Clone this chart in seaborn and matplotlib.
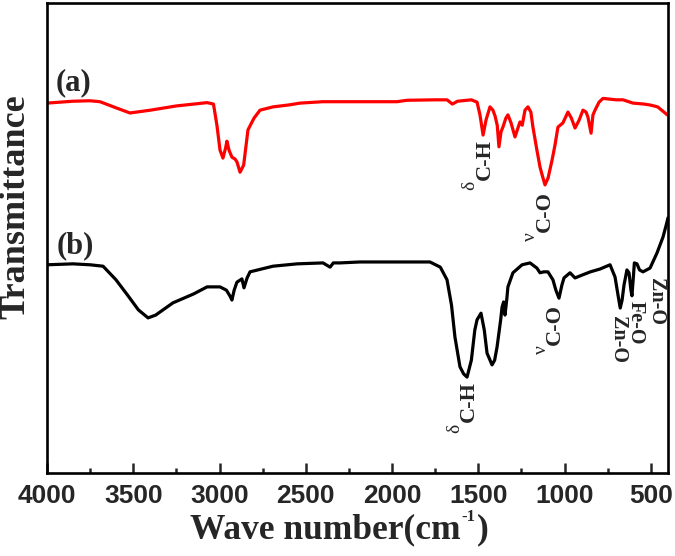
import numpy as np
import pandas as pd
import matplotlib
matplotlib.use("Agg")
import matplotlib.pyplot as plt
import seaborn as sns

# ---- data ----
wn_a = [4000, 3850, 3751, 3693, 3600, 3519, 3400, 3250, 3072, 3035, 3015, 2997, 2980, 2965,
        2957, 2945, 2928, 2910, 2899, 2881, 2860, 2835, 2800, 2765, 2690, 2600, 2533, 2400,
        2186, 1971, 1913, 1750, 1681, 1650, 1620, 1540, 1507, 1490, 1472, 1455, 1432, 1415,
        1403, 1390, 1380, 1368, 1357, 1340, 1328, 1310, 1287, 1270, 1258, 1245, 1229, 1212,
        1195, 1183, 1160, 1142, 1125, 1113, 1095, 1072, 1055, 1038, 1025, 1009, 980, 960,
        939, 915, 893, 875, 864, 846, 835, 823, 800, 777, 700, 661, 603, 540, 504, 460, 417, 405]
t_a = [78.7, 79.1, 79.2, 79.0, 77.7, 76.6, 77.2, 78.1, 78.8, 78.5, 74.0, 68.7, 67.0, 69.1,
       70.6, 68.7, 67.2, 66.8, 66.2, 64.0, 65.5, 73.0, 75.5, 77.2, 77.9, 78.3, 78.7, 79.0,
       79.0, 79.0, 79.3, 79.4, 79.4, 78.5, 79.1, 79.4, 78.9, 76.2, 71.9, 75.1, 77.9, 77.2,
       76.0, 74.0, 69.4, 72.6, 73.6, 75.5, 76.2, 74.5, 71.5, 73.4, 74.7, 74.0, 77.2, 77.9,
       76.8, 73.6, 68.7, 65.1, 62.8, 61.3, 62.8, 66.6, 69.8, 73.6, 74.0, 74.5, 76.8, 75.5,
       73.4, 75.1, 77.2, 76.8, 75.7, 72.3, 76.2, 77.2, 78.9, 79.7, 79.4, 79.4, 78.7, 78.5, 78.3, 77.9, 76.6, 76.2]

wn_b = [4000, 3850, 3750, 3675, 3600, 3530, 3470, 3414, 3370, 3270, 3150, 3072, 2997, 2960,
        2940, 2928, 2915, 2899, 2870, 2858, 2840, 2823, 2690, 2550, 2400, 2359, 2340, 2301,
        2186, 2000, 1780, 1720, 1681, 1655, 1635, 1606, 1585, 1565, 1540, 1520, 1507, 1484,
        1465, 1449, 1420, 1405, 1391, 1370, 1362, 1353, 1345, 1335, 1328, 1299, 1246, 1200,
        1160, 1142, 1120, 1096, 1067, 1050, 1032, 1015, 1003, 968, 939, 899, 850, 794, 736,
        707, 690, 677, 666, 655, 638, 626, 615, 609, 600, 595, 580, 565, 545, 504, 464, 429, 410, 400]
t_b = [44.3, 44.5, 44.3, 44.0, 41.1, 37.7, 34.7, 33.0, 33.6, 36.2, 38.1, 39.6, 39.6, 38.9,
       37.7, 36.8, 38.9, 40.6, 41.3, 39.4, 41.5, 42.8, 44.0, 44.5, 44.7, 43.8, 44.7, 44.7,
       44.9, 44.9, 44.9, 43.8, 41.1, 35.7, 28.9, 22.6, 21.1, 20.4, 24.0, 30.4, 32.6, 34.0,
       30.4, 25.5, 23.0, 24.0, 26.8, 32.6, 35.3, 36.4, 33.6, 36.8, 39.6, 42.6, 44.3, 44.7,
       43.6, 42.6, 42.8, 42.8, 41.1, 38.9, 37.2, 40.0, 41.5, 42.6, 41.5, 42.1, 42.8, 43.4, 44.3,
       41.7, 37.9, 35.1, 36.8, 40.0, 43.2, 42.6, 38.9, 37.7, 42.1, 44.7, 44.5, 43.2, 42.8, 43.6, 46.8, 50.2, 52.8, 54.3]

series_labels = ["(a)", "(b)"]
x_ticks = [4000, 3500, 3000, 2500, 2000, 1500, 1000, 500]

df_a = pd.DataFrame({"wn": wn_a, "T": t_a})
df_b = pd.DataFrame({"wn": wn_b, "T": t_b})

# ---- style ----
sns.set_style("ticks")
plt.rcParams["font.family"] = ["Liberation Serif", "DejaVu Serif"]

W, H = 675, 556
fig = plt.figure(figsize=(W / 100, H / 100), dpi=100)
ax = fig.add_axes([47 / W, 1 - 473 / H, 621 / W, 470 / H])

sns.lineplot(data=df_a, x="wn", y="T", ax=ax, color="#ff0000", lw=2.3, sort=False, estimator=None)
sns.lineplot(data=df_b, x="wn", y="T", ax=ax, color="#000000", lw=2.3, sort=False, estimator=None)

ax.set_xlim(4000, 400)
ax.set_ylim(0, 100)
ax.set_xticks(x_ticks)
ax.set_xticks([3750, 3250, 2750, 2250, 1750, 1250, 750], minor=True)
ax.set_xticklabels([str(v) for v in x_ticks], fontfamily="Liberation Sans",
                   fontweight="bold", fontsize=19)
ax.tick_params(axis="x", which="major", direction="in", length=7, width=1.8, pad=8)
ax.tick_params(axis="x", which="minor", direction="in", length=3.5, width=1.8)
ax.set_yticks([])
ax.set_xlabel("")
ax.set_ylabel("")
for sp in ax.spines.values():
    sp.set_linewidth(1.9)
    sp.set_color("black")

def px(x, y):
    return x / W, 1 - y / H

# y label
fig.text(*px(16, 207), "Transmittance", rotation=90, fontsize=26, fontweight="bold",
         ha="center", va="center")

# x label with small hyphen superscript
renderer = fig.canvas.get_renderer()
t1 = fig.text(*px(190, 538), "Wave number(cm", fontsize=25.5, fontweight="bold",
              ha="left", va="baseline")
bb = t1.get_window_extent(renderer)
t2 = fig.text((bb.x1 + 1) / W, 1 - 521 / H, "-1", fontsize=12, fontweight="bold",
              ha="left", va="baseline")
bb2 = t2.get_window_extent(renderer)
fig.text((bb2.x1 + 1) / W, 1 - 538 / H, ")", fontsize=25.5, fontweight="bold",
         ha="left", va="baseline")

# series labels
ax.text(3845, 83, series_labels[0], fontsize=22, fontweight="bold", ha="center", va="center")
ax.text(3835, 48.3, series_labels[1], fontsize=22, fontweight="bold", ha="center", va="center")

# peak annotations
lab = dict(fontsize=16, fontweight="bold", ha="center", va="center")
lab2 = dict(fontsize=14.5, fontweight="bold", ha="center", va="center")
sm = dict(fontsize=14, ha="center", va="center")
ax.text(1461, 66.6, "C-H", rotation=90, **lab)
ax.text(1548, 61.3, "δ", rotation=90, **sm)
ax.text(1113, 55.7, "C-O", rotation=90, **lab)
ax.text(1200, 50.4, "ν", rotation=90, **sm)
ax.text(1554, 15.3, "C-H", rotation=90, **lab)
ax.text(1635, 9.6, "δ", rotation=90, **sm)
ax.text(1055, 31.5, "C-O", rotation=90, **lab)
ax.text(1136, 26.2, "ν", rotation=90, **sm)
ax.text(687, 28.3, "Zn-O", rotation=-90, **lab2)
ax.text(588, 31.9, "Fe-O", rotation=-90, **lab2)
ax.text(472, 36.4, "Zn-O", rotation=-90, **lab2)

fig.savefig("out.png", dpi=100)
